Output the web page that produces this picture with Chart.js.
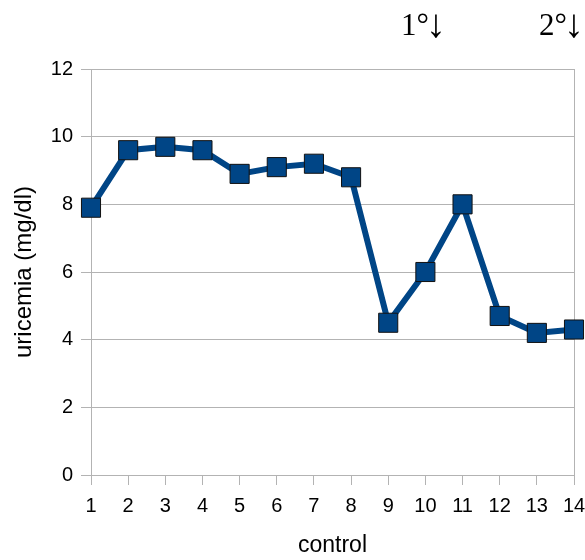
<!DOCTYPE html>
<html>
<head>
<meta charset="utf-8">
<script src="https://cdn.jsdelivr.net/npm/chart.js@4/dist/chart.umd.min.js"></script>
<style>
  html, body { margin: 0; padding: 0; background: #fff; }
  #wrap { width: 585px; height: 560px; position: relative; }
</style>
</head>
<body>
<div id="wrap"><canvas id="chart"></canvas></div>
<script>
// dati
const categories = ['1', '2', '3', '4', '5', '6', '7', '8', '9', '10', '11', '12', '13', '14'];
const uricemia = [7.9, 9.6, 9.7, 9.6, 8.9, 9.1, 9.2, 8.8, 4.5, 6.0, 8.0, 4.7, 4.2, 4.3];
const yMin = 0;
const yMax = 12;
const yStep = 2;
const markers = ['1°', '2°'];
const xTitle = 'control';
const yTitle = 'uricemia (mg/dl)';

const GRID = '#b3b3b3';
const BLUE = '#004586';
const FONT = "'Liberation Sans', Arial, sans-serif";

// bordo destro dell'area del grafico fissato a mano
const rightEdge = {
    id: 'rightEdge',
    afterLayout(chart) {
        const x = chart.scales.x;
        const R = chart.width - 11;
        x.right = R;
        x.width = R - x.left;
        x.configure();
        chart.chartArea.right = R;
        chart.chartArea.width = R - chart.chartArea.left;
    }
};

// frecce sopra il grafico
const markerPlugin = {
    id: 'markers',
    afterDraw(chart) {
        const ctx = chart.ctx;
        const pos = [401, 539];
        ctx.save();
        ctx.fillStyle = '#000';
        ctx.textAlign = 'left';
        ctx.textBaseline = 'alphabetic';
        markers.forEach((m, i) => {
            ctx.font = "31px 'Liberation Serif', serif";
            ctx.fillText(m, pos[i], 35);
            const w = ctx.measureText(m).width;
            ctx.font = "40px 'Liberation Serif', serif";
            ctx.fillText('↓', pos[i] + w - 3, 37);
        });
        ctx.restore();
    }
};

new Chart(document.getElementById('chart'), {
    type: 'line',
    data: {
        labels: categories,
        datasets: [{
            data: uricemia,
            borderColor: BLUE,
            borderWidth: 6,
            backgroundColor: BLUE,
            pointStyle: 'rect',
            pointRadius: 13.5,
            pointHoverRadius: 13.5,
            pointBackgroundColor: BLUE,
            pointBorderColor: '#111',
            pointBorderWidth: 1,
            tension: 0
        }]
    },
    options: {
        responsive: true,
        maintainAspectRatio: false,
        animation: false,
        layout: { padding: { top: 69, right: 11, left: 0, bottom: 0 } },
        plugins: { legend: { display: false }, tooltip: { enabled: false } },
        scales: {
            x: {
                offset: false,
                grid: {
                    color: (c) => (c.index === 0 || c.index === categories.length - 1) ? GRID : 'rgba(0,0,0,0)',
                    tickColor: GRID,
                    tickLength: 10,
                    lineWidth: 1
                },
                border: { color: GRID },
                ticks: { color: '#000', font: { family: FONT, size: 20 }, padding: 9, maxRotation: 0, autoSkip: false },
                title: { display: true, text: xTitle, color: '#000', font: { family: FONT, size: 23 }, padding: { top: 0, bottom: 1 } },
                afterFit(scale) {
                    scale.height = 85;
                    scale.paddingLeft = 0;
                    scale.paddingRight = 0;
                }
            },
            y: {
                min: yMin,
                max: yMax,
                grid: { color: GRID, tickColor: GRID, tickLength: 10, lineWidth: 1 },
                border: { color: GRID },
                ticks: { stepSize: yStep, color: '#000', font: { family: FONT, size: 20 }, padding: 8 },
                title: { display: true, text: yTitle, color: '#000', font: { family: FONT, size: 24 }, padding: { top: 10, bottom: 0 } },
                afterFit(scale) {
                    scale.width = 91;
                    scale.paddingTop = 0;
                    scale.paddingBottom = 0;
                }
            }
        }
    },
    plugins: [rightEdge, markerPlugin]
});
</script>
</body>
</html>
